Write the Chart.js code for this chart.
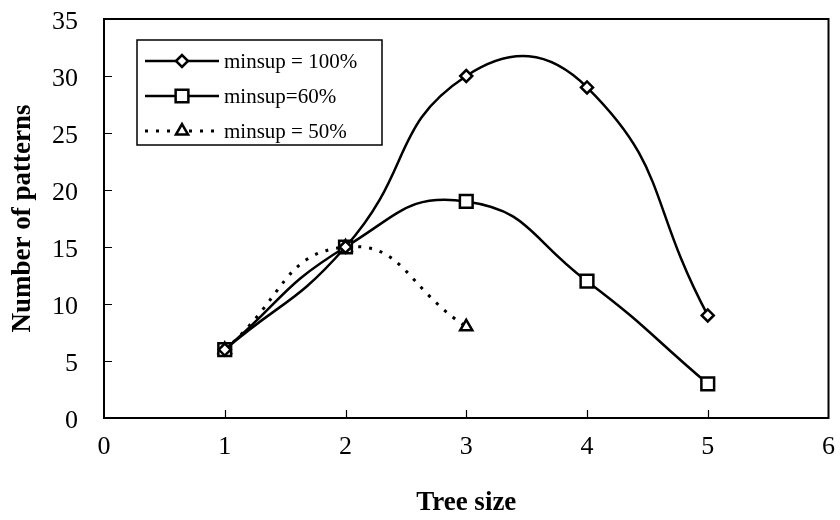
<!DOCTYPE html>
<html>
<head>
<meta charset="utf-8">
<script src="https://cdn.jsdelivr.net/npm/chart.js@4/dist/chart.umd.min.js"></script>
<style>
  html, body { margin: 0; padding: 0; background: #fff; }
  #wrap { width: 840px; height: 520px; }
</style>
</head>
<body>
<div id="wrap"><canvas id="patternChart"></canvas></div>
<script>
const treeSizes = [1, 2, 3, 4, 5];
const minsup100 = [6, 15, 30, 29, 9];
const minsup60 = [6, 15, 19, 12, 3];
const minsup50 = [6, 15, 8];
const seriesLabels = ["minsup = 100%", "minsup=60%", "minsup = 50%"];
const xTicks = [0, 1, 2, 3, 4, 5, 6];
const yTicks = [0, 5, 10, 15, 20, 25, 30, 35];

const serif = "'Liberation Serif', 'Times New Roman', serif";

const toPoints = (values) => values.map((v, i) => ({ x: treeSizes[i], y: v }));

// frame round the plot area plus inward tick marks
const frameAndTicks = {
  id: "frameAndTicks",
  afterDatasetsDraw(chart) {
    const { ctx, chartArea: { left, right, top, bottom }, scales: { x, y } } = chart;
    ctx.save();
    ctx.strokeStyle = "#000";
    ctx.lineWidth = 2;
    ctx.strokeRect(left, top, right - left, bottom - top);
    ctx.lineWidth = 1.2;
    ctx.beginPath();
    xTicks.slice(1, -1).forEach((t) => {
      const px = Math.round(x.getPixelForValue(t)) + 0.5;
      ctx.moveTo(px, bottom);
      ctx.lineTo(px, bottom - 8);
    });
    yTicks.slice(1, -1).forEach((t) => {
      const py = Math.round(y.getPixelForValue(t)) + 0.5;
      ctx.moveTo(left, py);
      ctx.lineTo(left + 8, py);
    });
    ctx.stroke();
    ctx.restore();
  }
};

// boxed legend with line sample and marker for every series
const boxedLegend = {
  id: "boxedLegend",
  afterDraw(chart) {
    const { ctx } = chart;
    const box = { left: 137, top: 40, width: 245, height: 105 };
    ctx.save();
    ctx.fillStyle = "#fff";
    ctx.fillRect(box.left, box.top, box.width, box.height);
    ctx.strokeStyle = "#000";
    ctx.lineWidth = 1.5;
    ctx.strokeRect(box.left, box.top, box.width, box.height);
    ctx.font = "21px " + serif;
    ctx.textBaseline = "middle";
    ctx.fillStyle = "#000";
    chart.data.datasets.forEach((ds, i) => {
      const rowY = 61 + i * 35;
      ctx.save();
      ctx.lineWidth = ds.borderWidth;
      ctx.setLineDash(ds.borderDash || []);
      ctx.beginPath();
      ctx.moveTo(145, rowY);
      ctx.lineTo(219, rowY);
      ctx.stroke();
      ctx.restore();
      ctx.save();
      ctx.lineWidth = ds.pointBorderWidth;
      ctx.fillStyle = "#fff";
      ctx.strokeStyle = "#000";
      Chart.helpers.drawPoint(ctx, { pointStyle: ds.pointStyle, radius: ds.pointRadius, borderWidth: ds.pointBorderWidth }, 182, rowY);
      ctx.restore();
      ctx.fillText(ds.label, 224, rowY + 1);
    });
    ctx.restore();
  }
};

new Chart(document.getElementById("patternChart"), {
  type: "line",
  data: {
    datasets: [
      {
        label: seriesLabels[0],
        data: toPoints(minsup100),
        borderColor: "#000",
        borderWidth: 2.5,
        pointStyle: "rectRot",
        pointRadius: 6,
        pointBorderWidth: 2.5,
        pointBackgroundColor: "#fff",
        pointBorderColor: "#000",
        tension: 0.5
      },
      {
        label: seriesLabels[1],
        data: toPoints(minsup60),
        borderColor: "#000",
        borderWidth: 2.5,
        pointStyle: "rect",
        pointRadius: 9,
        pointBorderWidth: 2.5,
        pointBackgroundColor: "#fff",
        pointBorderColor: "#000",
        tension: 0.5
      },
      {
        label: seriesLabels[2],
        data: toPoints(minsup50),
        borderColor: "#000",
        borderWidth: 3,
        borderDash: [3, 8],
        pointStyle: "triangle",
        pointRadius: 7,
        pointBorderWidth: 2.5,
        pointBackgroundColor: "#fff",
        pointBorderColor: "#000",
        tension: 0.5
      }
    ]
  },
  options: {
    responsive: true,
    maintainAspectRatio: false,
    animation: false,
    layout: { padding: { top: 19, right: 9, left: 0, bottom: 0 } },
    plugins: {
      legend: { display: false },
      tooltip: { enabled: false }
    },
    scales: {
      x: {
        type: "linear",
        min: 0,
        max: 6,
        afterBuildTicks: (scale) => { scale.ticks = xTicks.map((v) => ({ value: v })); },
        afterFit: (scale) => {
          scale.height = 102;
          scale.paddingLeft = 0;
          scale.paddingRight = 0;
        },
        grid: { display: false, drawTicks: false },
        border: { display: false },
        ticks: {
          color: "#000",
          padding: 14,
          font: { family: serif, size: 26 }
        },
        title: {
          display: true,
          text: "Tree size",
          color: "#000",
          font: { family: serif, size: 27, weight: "bold" },
          padding: { top: 18, bottom: 1 }
        }
      },
      y: {
        min: 0,
        max: 35,
        afterBuildTicks: (scale) => { scale.ticks = yTicks.map((v) => ({ value: v })); },
        afterFit: (scale) => {
          scale.width = 104;
          scale.paddingTop = 0;
          scale.paddingBottom = 0;
        },
        grid: { display: false, drawTicks: false },
        border: { display: false },
        ticks: {
          color: "#000",
          padding: 26,
          labelOffset: 3,
          font: { family: serif, size: 26 }
        },
        title: {
          display: true,
          text: "Number of patterns",
          color: "#000",
          font: { family: serif, size: 27, weight: "bold" },
          padding: { top: 7, bottom: 0 }
        }
      }
    }
  },
  plugins: [frameAndTicks, boxedLegend]
});
</script>
</body>
</html>
